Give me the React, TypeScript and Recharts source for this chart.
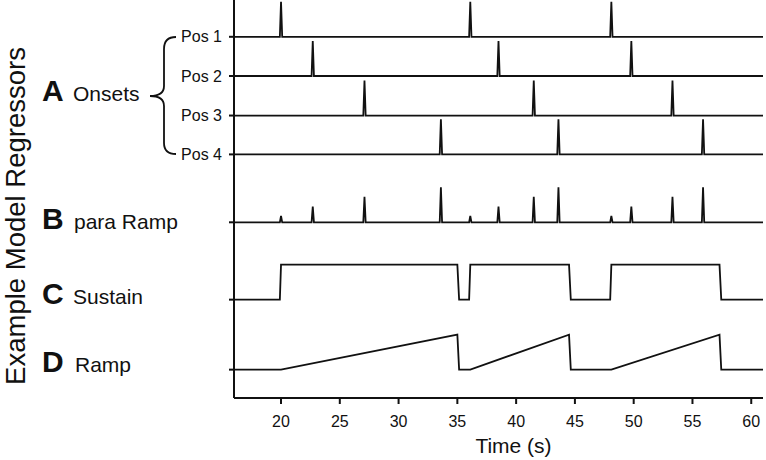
import { LineChart, Line, XAxis, YAxis } from "recharts";

// x axis
const X_TICKS = [20, 25, 30, 35, 40, 45, 50, 55, 60];
const X_MIN = 16;
const X_MAX = 61;

// onset times (s) for each position
const POS1_ONSETS = [20.0, 36.1, 48.1];
const POS2_ONSETS = [22.7, 38.5, 49.8];
const POS3_ONSETS = [27.1, 41.5, 53.3];
const POS4_ONSETS = [33.6, 43.6, 55.9];

// parametric ramp height per position
const PARA_HEIGHTS = [0.18, 0.45, 0.73, 1.0];

// sequence blocks (sustain / ramp)
const BLOCK_STARTS = [20.0, 36.1, 48.1];
const BLOCK_ENDS = [35.0, 44.5, 57.3];

const TRACK_LABELS = ["Pos 1", "Pos 2", "Pos 3", "Pos 4", "", "", ""];

// layout: baseline of each track, in units of one regressor amplitude
const BASES = [10.32, 9.2, 8.07, 6.96, 5.02, 2.81, 0.81];
const Y_MAX = 398 / 35;
const SPIKE_HALF = 0.1;
const DROP = 0.15;
const INK = "#111";
const FONT = "'Liberation Sans', Arial, sans-serif";

type Pt = { t: number; v: number };

function spikeTrack(events: { t: number; h: number }[], base: number): Pt[] {
    const pts: Pt[] = [{ t: X_MIN, v: base }];
    [...events]
        .sort((a, b) => a.t - b.t)
        .forEach((e) => {
            pts.push({ t: e.t - SPIKE_HALF, v: base });
            pts.push({ t: e.t, v: base + e.h });
            pts.push({ t: e.t + SPIKE_HALF, v: base });
        });
    pts.push({ t: X_MAX, v: base });
    return pts;
}

function sustainTrack(base: number): Pt[] {
    const pts: Pt[] = [{ t: X_MIN, v: base }];
    BLOCK_STARTS.forEach((s, i) => {
        pts.push({ t: s - SPIKE_HALF, v: base });
        pts.push({ t: s, v: base + 1 });
        pts.push({ t: BLOCK_ENDS[i], v: base + 1 });
        pts.push({ t: BLOCK_ENDS[i] + DROP, v: base });
    });
    pts.push({ t: X_MAX, v: base });
    return pts;
}

function rampTrack(base: number): Pt[] {
    const pts: Pt[] = [{ t: X_MIN, v: base }];
    BLOCK_STARTS.forEach((s, i) => {
        pts.push({ t: s, v: base });
        pts.push({ t: BLOCK_ENDS[i], v: base + 1 });
        pts.push({ t: BLOCK_ENDS[i] + DROP, v: base });
    });
    pts.push({ t: X_MAX, v: base });
    return pts;
}

const POS_ONSETS = [POS1_ONSETS, POS2_ONSETS, POS3_ONSETS, POS4_ONSETS];

const tracks: Pt[][] = [
    ...POS_ONSETS.map((ons, i) => spikeTrack(ons.map((t) => ({ t, h: 1 })), BASES[i])),
    spikeTrack(
        POS_ONSETS.flatMap((ons, i) => ons.map((t) => ({ t, h: PARA_HEIGHTS[i] }))),
        BASES[4]
    ),
    sustainTrack(BASES[5]),
    rampTrack(BASES[6]),
];

const sideLabels = [
    { letter: "A", name: "Onsets", y: 101, nx: 73 },
    { letter: "B", name: "para Ramp", y: 229, nx: 74 },
    { letter: "C", name: "Sustain", y: 304, nx: 73 },
    { letter: "D", name: "Ramp", y: 372, nx: 75 },
];

export default function App() {
    return (
        <div
            style={{
                position: "absolute",
                left: 0,
                top: 0,
                width: 766,
                height: 460,
                background: "#fff",
                fontFamily: FONT,
            }}
        >
            <LineChart
                width={766}
                height={460}
                margin={{ top: 0, right: 3, bottom: 0, left: 0 }}
            >
                <XAxis
                    dataKey="t"
                    type="number"
                    domain={[X_MIN, X_MAX]}
                    ticks={X_TICKS}
                    allowDuplicatedCategory={false}
                    height={62}
                    tickSize={6}
                    tickMargin={12}
                    axisLine={{ stroke: INK, strokeWidth: 2 }}
                    tickLine={{ stroke: INK, strokeWidth: 2 }}
                    tick={{ fontSize: 16, fill: INK }}
                    label={{
                        value: "Time (s)",
                        position: "insideBottom",
                        offset: 7,
                        dx: 15,
                        fontSize: 21,
                        fill: INK,
                    }}
                />
                <YAxis
                    type="number"
                    domain={[0, Y_MAX]}
                    ticks={BASES}
                    width={234}
                    tickSize={5}
                    tickMargin={7}
                    interval={0}
                    axisLine={{ stroke: INK, strokeWidth: 2 }}
                    tickLine={{ stroke: INK, strokeWidth: 2 }}
                    tick={{ fontSize: 16, fill: INK }}
                    tickFormatter={(v: number) => TRACK_LABELS[BASES.indexOf(v)] ?? ""}
                />
                {tracks.map((pts, i) => (
                    <Line
                        key={i}
                        data={pts}
                        dataKey="v"
                        type="linear"
                        stroke={INK}
                        strokeWidth={1.8}
                        dot={false}
                        activeDot={false}
                        isAnimationActive={false}
                    />
                ))}
            </LineChart>
            <svg
                width={766}
                height={460}
                style={{ position: "absolute", left: 0, top: 0, pointerEvents: "none" }}
            >
                <text
                    transform="translate(25, 216) rotate(-90)"
                    textAnchor="middle"
                    fontSize={27.5}
                    fill={INK}
                >
                    Example Model Regressors
                </text>
                {sideLabels.map((l) => (
                    <g key={l.letter}>
                        <text x={42} y={l.y} fontSize={30} fontWeight="bold" fill={INK}>
                            {l.letter}
                        </text>
                        <text x={l.nx} y={l.y} fontSize={21} fill={INK}>
                            {l.name}
                        </text>
                    </g>
                ))}
                <path
                    d="M176 37 Q164 37 164 49 L164 86 Q164 96 150 96 Q164 96 164 106 L164 143 Q164 154 176 154"
                    fill="none"
                    stroke={INK}
                    strokeWidth={1.8}
                />
            </svg>
        </div>
    );
}
